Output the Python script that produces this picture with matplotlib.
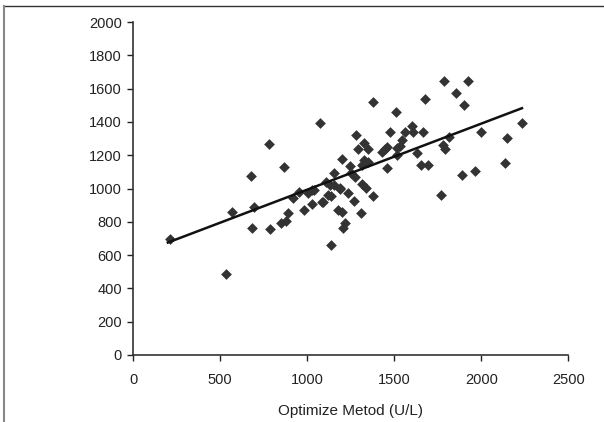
import numpy as np
import matplotlib
matplotlib.use("Agg")
import matplotlib.pyplot as plt
from matplotlib.lines import Line2D

plt.rcParams["font.family"] = ["Liberation Sans", "DejaVu Sans"]

# values (U/L)
optimize_x = [
    210, 535, 570, 676, 692, 686, 781, 787, 864, 848, 877, 892, 921, 955,
    984, 1007, 1030, 1041, 1030, 1076, 1087, 1106, 1135, 1118, 1137, 1132,
    1152, 1156, 1179, 1198, 1190, 1200, 1188, 1093,
    1207, 1217, 1232, 1246, 1252, 1267, 1274, 1282, 1293, 1307, 1312, 1312,
    1324, 1324, 1335, 1347, 1347, 1379, 1379, 1427, 1446, 1456, 1461, 1477,
    1509, 1513, 1513, 1532, 1542, 1561, 1603, 1609, 1633, 1656, 1662, 1674,
    1693, 1771, 1785, 1781, 1790, 1813, 1857, 1891, 1903, 1922, 1962, 1997,
    2134, 2147, 2233,
]
reference_y = [
    697, 485, 859, 1075, 891, 765, 1267, 757, 1131, 795, 805, 855, 941, 981,
    871, 971, 905, 991, 991, 1392, 921, 1041, 661, 961, 955, 1021,
    1021, 1094, 871, 861, 995, 1175, 1001, 921,
    760, 791, 971, 1137, 1091, 923, 1067, 1323, 1237, 851, 1141, 1027,
    1275, 1171, 1001, 1235, 1161, 1521, 957, 1217, 1237, 1125, 1251, 1339,
    1457, 1241, 1201, 1255, 1291, 1341, 1375, 1341, 1215, 1139, 1339, 1538,
    1139, 963, 1648, 1259, 1239, 1307, 1574, 1081, 1500, 1648, 1103, 1339,
    1155, 1301, 1391,
]

# linear trendline as drawn in the reference
trend_slope = 0.397
trend_intercept = 596

x_ticks = [0, 500, 1000, 1500, 2000, 2500]
y_ticks = [0, 200, 400, 600, 800, 1000, 1200, 1400, 1600, 1800, 2000]

x = np.array(optimize_x, dtype=float)
y = np.array(reference_y, dtype=float)

fig = plt.figure(figsize=(6.04, 4.22), dpi=100)
ax = fig.add_axes([0.2202, 0.1588, 0.721, 0.789])

ax.scatter(x, y, marker="D", s=30, color="#333333", linewidths=0, zorder=3)
xs = np.array([x.min() - 10, x.max()])
ax.plot(xs, trend_slope * xs + trend_intercept, color="#111111", lw=1.8, zorder=4)

ax.set_xlim(0, 2500)
ax.set_ylim(0, 2000)
ax.set_xticks(x_ticks)
ax.set_yticks(y_ticks)
ax.tick_params(direction="out", length=4, width=1, colors="#222222",
               labelsize=10.5)
ax.tick_params(axis="x", pad=9)
ax.tick_params(axis="y", pad=4)
for side in ("top", "right"):
    ax.spines[side].set_visible(False)
for side in ("left", "bottom"):
    ax.spines[side].set_color("#333333")
    ax.spines[side].set_linewidth(1.2)
ax.set_xlabel("Optimize Metod (U/L)", fontsize=11, color="#222222", labelpad=12)

# frame edges of the original page crop
fig.add_artist(Line2D([4 / 604, 1], [1 - 6 / 422, 1 - 6 / 422],
                      transform=fig.transFigure, color="#333333", lw=1))
fig.add_artist(Line2D([4 / 604, 4 / 604], [0, 1 - 6 / 422],
                      transform=fig.transFigure, color="#888888", lw=1.5))

fig.savefig("out.png", dpi=100)
